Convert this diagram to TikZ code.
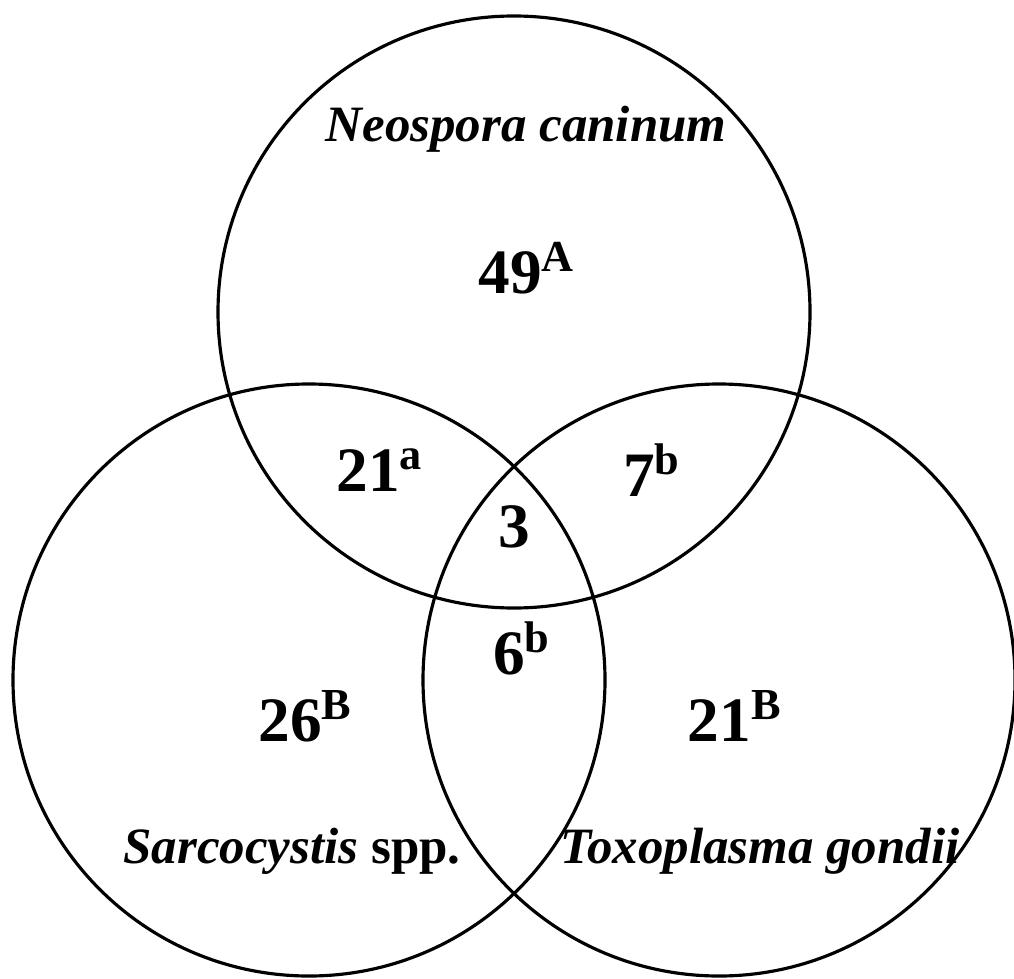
\documentclass[tikz,border=0pt]{standalone}
\usepackage{fontspec}
\setmainfont{Liberation Serif}
\newcommand{\apice}[1]{\textsuperscript{#1}}
\begin{document}
\begin{tikzpicture}
        [numero/.style={font=\bfseries\fontsize{18}{18}\selectfont, inner sep=0pt},
         specie/.style={font=\bfseries\fontsize{14.5}{14.5}\selectfont, inner sep=0pt},
         cerchio/.style={line width=0.9pt}]
        \useasboundingbox (0,0) rectangle (10.14,9.78);
            %centri dei cerchi
            \coordinate (cN) at (5.14,6.66);
            \coordinate (cS) at (3.09,2.98);
            \coordinate (cT) at (7.19,2.98);
            %disegno cerchi
            \draw[cerchio] (cN) circle (2.96);
            \draw[cerchio] (cS) circle (2.96);
            \draw[cerchio] (cT) circle (2.96);
            %nomi delle specie
            \node[specie] (neo) at (5.26,8.49) {\itshape Neospora caninum};
            \node[specie] (sar) at (2.92,1.27) {\itshape Sarcocystis\/ \upshape spp.};
            \node[specie] (tox) at (7.60,1.27) {\itshape Toxoplasma gondii};
            %numeri nelle regioni
            \node[numero] (n49) at (5.27,7.10) {49\apice{A}};
            \node[numero] (n21a) at (3.80,5.08) {21\apice{a}};
            \node[numero] (n7) at (6.52,5.08) {7\apice{b}};
            \node[numero] (n3) at (5.14,4.51) {3};
            \node[numero] (n6) at (5.22,3.30) {6\apice{b}};
            \node[numero] (n26) at (3.06,2.62) {26\apice{B}};
            \node[numero] (n21b) at (7.35,2.62) {21\apice{B}};
\end{tikzpicture}
\end{document}
